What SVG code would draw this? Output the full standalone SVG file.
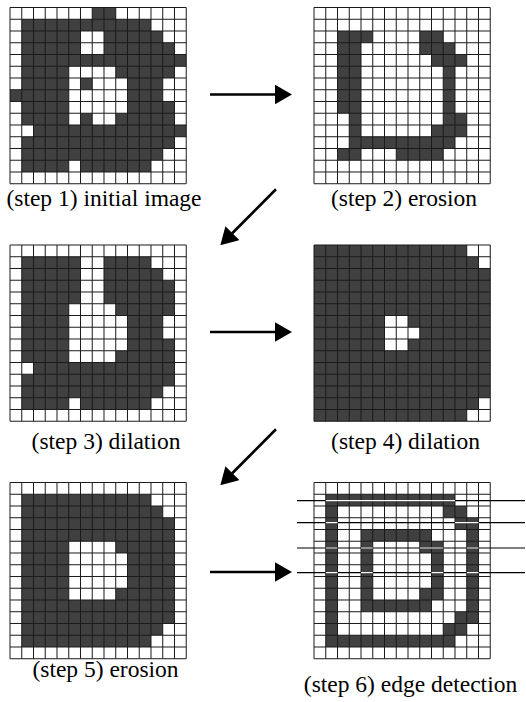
<svg xmlns="http://www.w3.org/2000/svg" xmlns:xlink="http://www.w3.org/1999/xlink" width="526" height="702" viewBox="0 0 526 702">
<style>
.bg{fill:#fff}
.dk{fill:#404040}
.wt{fill:#fff}
.gl{fill:none;stroke:#1a1a1a;stroke-width:1;vector-effect:non-scaling-stroke}
.lbl{font-family:"Liberation Serif","Times New Roman",serif;font-size:23.5px;fill:#000;text-anchor:middle}
.conn{stroke:#000;stroke-width:2.7;fill:none}
.scan{stroke:#000;stroke-width:1.2;fill:none}
.scanw{stroke:#fff;stroke-width:1.2;fill:none}
</style>
<defs>
<path id="grid" class="gl" d="M0 0H15M0 1H15M0 2H15M0 3H15M0 4H15M0 5H15M0 6H15M0 7H15M0 8H15M0 9H15M0 10H15M0 11H15M0 12H15M0 13H15M0 14H15M0 15H15M0 0V15M1 0V15M2 0V15M3 0V15M4 0V15M5 0V15M6 0V15M7 0V15M8 0V15M9 0V15M10 0V15M11 0V15M12 0V15M13 0V15M14 0V15M15 0V15"/>
<marker id="ah" markerUnits="userSpaceOnUse" viewBox="0 0 17 20" markerWidth="17" markerHeight="20" refX="0.5" refY="10" orient="auto">
<path d="M0 0.2L17 10L0 19.8z" fill="#000"/>
</marker>
</defs>

<g id="step1">
<g transform="translate(10 7.5) scale(11.75)">
<rect class="bg" width="15" height="15"/>
<path class="dk" d="M7 0h2v1h-2zM1 1h11v1h-11zM1 2h5v1h-5zM8 2h5v1h-5zM1 3h5v1h-5zM8 3h6v1h-6zM1 4h14v1h-14zM1 5h4v1h-4zM9 5h5v1h-5zM1 6h4v1h-4zM6 6h1v1h-1zM10 6h3v1h-3zM0 7h5v1h-5zM10 7h3v1h-3zM1 8h4v1h-4zM10 8h4v1h-4zM1 9h4v1h-4zM6 9h1v1h-1zM9 9h5v1h-5zM2 10h13v1h-13zM1 11h13v1h-13zM1 12h12v1h-12zM1 13h4v1h-4zM6 13h6v1h-6z"/>
<use xlink:href="#grid"/>
</g>
<text class="lbl" x="104" y="206">(step 1) initial image</text>
</g>

<g id="step2">
<g transform="translate(314 7.5) scale(11.75)">
<rect class="bg" width="15" height="15"/>
<path class="dk" d="M2 2h2v7h-2zM4 2h1v1h-1zM9 2h2v1h-2zM9 3h3v1h-3zM10 4h3v1h-3zM11 5h1v4h-1zM3 9h1v2h-1zM11 9h2v1h-2zM10 10h3v1h-3zM3 11h9v1h-9zM2 12h2v1h-2zM7 12h4v1h-4z"/>
<use xlink:href="#grid"/>
</g>
<text class="lbl" x="404" y="206">(step 2) erosion</text>
</g>

<g id="step3">
<g transform="translate(10 245) scale(11.75)">
<rect class="bg" width="15" height="15"/>
<path class="dk" d="M1 1h5v4h-5zM8 1h4v1h-4zM8 2h5v1h-5zM8 3h6v2h-6zM1 5h4v5h-4zM9 5h5v1h-5zM10 6h3v2h-3zM10 8h4v1h-4zM9 9h5v1h-5zM2 10h12v1h-12zM1 11h13v1h-13zM1 12h12v1h-12zM1 13h4v1h-4zM6 13h6v1h-6z"/>
<use xlink:href="#grid"/>
</g>
<text class="lbl" x="106" y="449">(step 3) dilation</text>
</g>

<g id="step4">
<g transform="translate(314 245) scale(11.75)">
<rect class="dk" width="15" height="15"/>
<path class="wt" d="M13 0h2v1h-2zM14 1h1v1h-1zM6 6h2v1h-2zM6 7h3v1h-3zM6 8h2v1h-2zM14 13h1v1h-1zM13 14h2v1h-2z"/>
<use xlink:href="#grid"/>
</g>
<text class="lbl" x="405.5" y="449">(step 4) dilation</text>
</g>

<g id="step5">
<g transform="translate(10 482.5) scale(11.75)">
<rect class="bg" width="15" height="15"/>
<path class="dk" d="M1 1h11v1h-11zM1 2h12v1h-12zM1 3h13v2h-13zM1 5h4v5h-4zM9 5h5v1h-5zM10 6h4v3h-4zM9 9h5v1h-5zM1 10h13v2h-13zM1 12h12v1h-12zM1 13h11v1h-11z"/>
<use xlink:href="#grid"/>
</g>
<text class="lbl" x="105.5" y="677">(step 5) erosion</text>
</g>

<g id="step6">
<g transform="translate(314 482.5) scale(11.75)">
<rect class="bg" width="15" height="15"/>
<path class="dk" d="M1 1h11v1h-11zM1 2h1v11h-1zM11 2h2v1h-2zM12 3h2v1h-2zM13 4h1v7h-1zM12 11h2v1h-2zM11 12h2v1h-2zM1 13h11v1h-11zM4 4h6v1h-6zM4 5h1v5h-1zM9 5h2v1h-2zM10 6h1v3h-1zM9 9h2v1h-2zM4 10h6v1h-6z"/>
<use xlink:href="#grid"/>
</g>
<path class="scan" d="M297 500.7H525M297 522.7H525M297 548H525M297 572.7H525"/>
<path class="scanw" d="M325.75 500.7H455M325.75 522.7H337.5M455 522.7H478.5M325.75 548H337.5M361 548H372.75M419.75 548H443.25M466.75 548H478.5M325.75 572.7H337.5M361 572.7H372.75M431.5 572.7H443.25M466.75 572.7H478.5"/>
<text class="lbl" x="410.5" y="692">(step 6) edge detection</text>
</g>

<g id="connectors">
<line class="conn" x1="210" y1="94.5" x2="275.5" y2="94.5" marker-end="url(#ah)"/>
<line class="conn" x1="276" y1="189.3" x2="232" y2="233.5" marker-end="url(#ah)"/>
<line class="conn" x1="210" y1="332" x2="275.5" y2="332" marker-end="url(#ah)"/>
<line class="conn" x1="276" y1="429.3" x2="232" y2="473.5" marker-end="url(#ah)"/>
<line class="conn" x1="210" y1="572" x2="275.5" y2="572" marker-end="url(#ah)"/>
</g>
</svg>
